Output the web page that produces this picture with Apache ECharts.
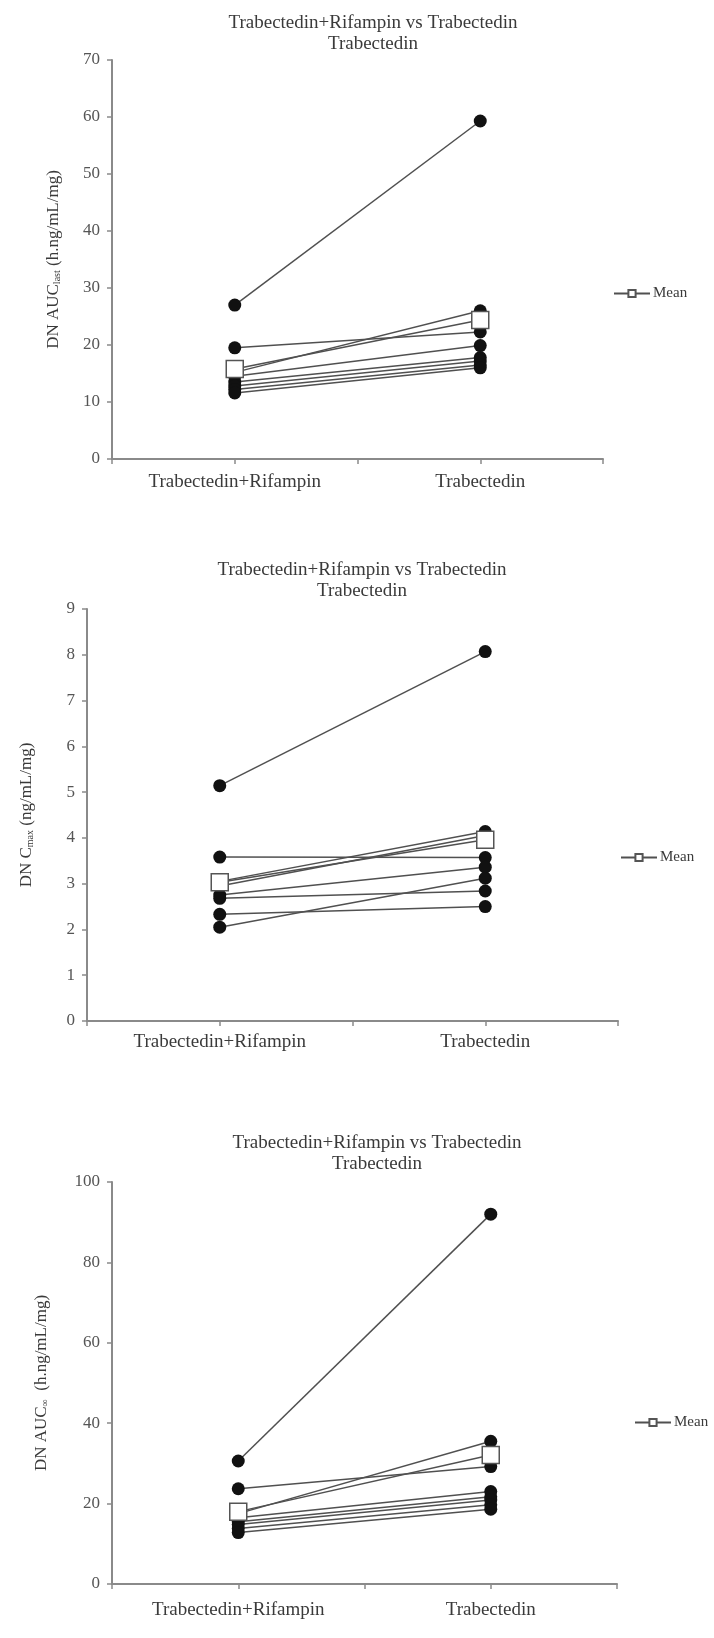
<!DOCTYPE html>
<html>
<head>
<meta charset="utf-8">
<script src="https://cdn.jsdelivr.net/npm/echarts@6/dist/echarts.min.js"></script>
<style>
  html, body { margin: 0; padding: 0; background: #fff; }
  #chart { width: 714px; height: 1638px; }
</style>
</head>
<body>
<div id="chart"></div>
<script>
// Paired subject values: Trabectedin+Rifampin vs Trabectedin alone
const categories = ['Trabectedin+Rifampin', 'Trabectedin'];
const titleLines = ['Trabectedin+Rifampin vs Trabectedin', 'Trabectedin'];

// Dose-normalised AUC(last), h.ng/mL/mg
const aucLastCombo = [27.0, 19.5, 15.2, 14.5, 13.5, 12.8, 12.2, 11.6];
const aucLastAlone = [59.3, 22.3, 26.0, 19.9, 17.8, 17.2, 16.5, 16.0];
const aucLastMean  = [15.8, 24.4];

// Dose-normalised Cmax, ng/mL/mg
const cmaxCombo = [5.14, 3.58, 3.05, 2.95, 2.75, 2.68, 2.33, 2.05];
const cmaxAlone = [8.07, 3.57, 4.14, 4.05, 3.36, 2.84, 2.50, 3.12];
const cmaxMean  = [3.03, 3.96];

// Dose-normalised AUC(inf), h.ng/mL/mg
const aucInfCombo = [30.6, 23.7, 17.5, 16.5, 15.5, 14.8, 13.8, 12.8];
const aucInfAlone = [92.0, 29.2, 35.5, 23.0, 21.7, 20.9, 19.7, 18.6];
const aucInfMean  = [18.0, 32.1];

const FONT = '"Liberation Serif", "DejaVu Serif", serif';
const TEXT = '#3a3a3a';
const AXIS = '#8a8a8a';

const panels = [
  {
    combo: aucLastCombo, alone: aucLastAlone, mean: aucLastMean,
    yMax: 70, yStep: 10,
    yName: ['DN AUC', 'last', ' (h.ng/mL/mg)'],
    grid: { left: 112, top: 60, width: 491, height: 399 },
    nameGap: 50, labelMargin: 14, titleX: 373, titleY: 13,
    legend: { left: 608, top: 281 }
  },
  {
    combo: cmaxCombo, alone: cmaxAlone, mean: cmaxMean,
    yMax: 9, yStep: 1,
    yName: ['DN C', 'max', ' (ng/mL/mg)'],
    grid: { left: 87, top: 609, width: 531, height: 412 },
    nameGap: 52, labelMargin: 12, titleX: 362, titleY: 560,
    legend: { left: 615, top: 845 }
  },
  {
    combo: aucInfCombo, alone: aucInfAlone, mean: aucInfMean,
    yMax: 100, yStep: 20,
    yName: ['DN AUC', '\u221e', '  (h.ng/mL/mg)'],
    grid: { left: 112, top: 1182, width: 505, height: 402 },
    nameGap: 62, labelMargin: 17, titleX: 377, titleY: 1133,
    legend: { left: 629, top: 1410 }
  }
];

const option = {
  backgroundColor: '#fff',
  animation: false,
  grid: [], xAxis: [], yAxis: [], series: [], legend: [],
  graphic: []
};

panels.forEach((p, i) => {
  option.grid.push(Object.assign({ containLabel: false }, p.grid));

  // four equal slots, the two treatments sit at 1 and 3
  option.xAxis.push({
    type: 'value', gridIndex: i, min: 0, max: 4, interval: 1,
    axisLine: { show: true, lineStyle: { color: AXIS, width: 2 } },
    axisTick: { show: true, inside: false, length: 5, lineStyle: { color: AXIS, width: 1.5 } },
    splitLine: { show: false },
    axisLabel: {
      margin: p.labelMargin, color: TEXT, fontFamily: FONT, fontSize: 19,
      showMinLabel: true, showMaxLabel: true,
      formatter: v => (v === 1 ? categories[0] : v === 3 ? categories[1] : '')
    }
  });

  option.yAxis.push({
    type: 'value', gridIndex: i, min: 0, max: p.yMax, interval: p.yStep,
    axisLine: { show: true, lineStyle: { color: AXIS, width: 2 } },
    axisTick: { show: true, inside: false, length: 5, lineStyle: { color: AXIS, width: 1.5 } },
    splitLine: { show: false },
    axisLabel: { margin: 12, color: '#555', fontFamily: FONT, fontSize: 17 },
    name: '{a|' + p.yName[0] + '}{s|' + p.yName[1] + '}{a|' + p.yName[2] + '}',
    nameLocation: 'middle', nameRotate: 90, nameGap: p.nameGap,
    nameTextStyle: {
      color: TEXT, fontFamily: FONT,
      rich: {
        a: { fontFamily: FONT, fontSize: 17, color: TEXT, lineHeight: 22, verticalAlign: 'bottom' },
        s: { fontFamily: FONT, fontSize: 10, color: TEXT, lineHeight: 22, verticalAlign: 'bottom', padding: [6, 0, 0, 0] }
      }
    }
  });

  // one line per subject
  p.combo.forEach((v, k) => {
    option.series.push({
      type: 'line', xAxisIndex: i, yAxisIndex: i,
      data: [[1, v], [3, p.alone[k]]],
      symbol: 'circle', symbolSize: 13,
      itemStyle: { color: '#111' },
      lineStyle: { color: '#505050', width: 1.5 },
      z: 3, silent: true
    });
  });

  // group mean
  option.series.push({
    name: 'Mean', type: 'line', xAxisIndex: i, yAxisIndex: i,
    data: [[1, p.mean[0]], [3, p.mean[1]]],
    symbol: 'rect', symbolSize: 17,
    itemStyle: { color: '#fff', borderColor: '#555', borderWidth: 1.5 },
    lineStyle: { color: '#505050', width: 1.5 },
    z: 5
  });

  option.legend.push({
    data: ['Mean'], left: p.legend.left, top: p.legend.top,
    itemWidth: 36, itemHeight: 9, itemGap: 4,
    textStyle: { color: TEXT, fontFamily: FONT, fontSize: 15, padding: [0, 0, 0, -2] },
    selectedMode: false
  });

  option.graphic.push({
    type: 'text', x: p.titleX, y: p.titleY,
    style: {
      text: titleLines.join('\n'), align: 'center', verticalAlign: 'top',
      font: '19px ' + FONT, fill: TEXT, lineHeight: 21
    }
  });
});

const chart = echarts.init(document.getElementById('chart'), null, { renderer: 'canvas' });
chart.setOption(option);
</script>
</body>
</html>
